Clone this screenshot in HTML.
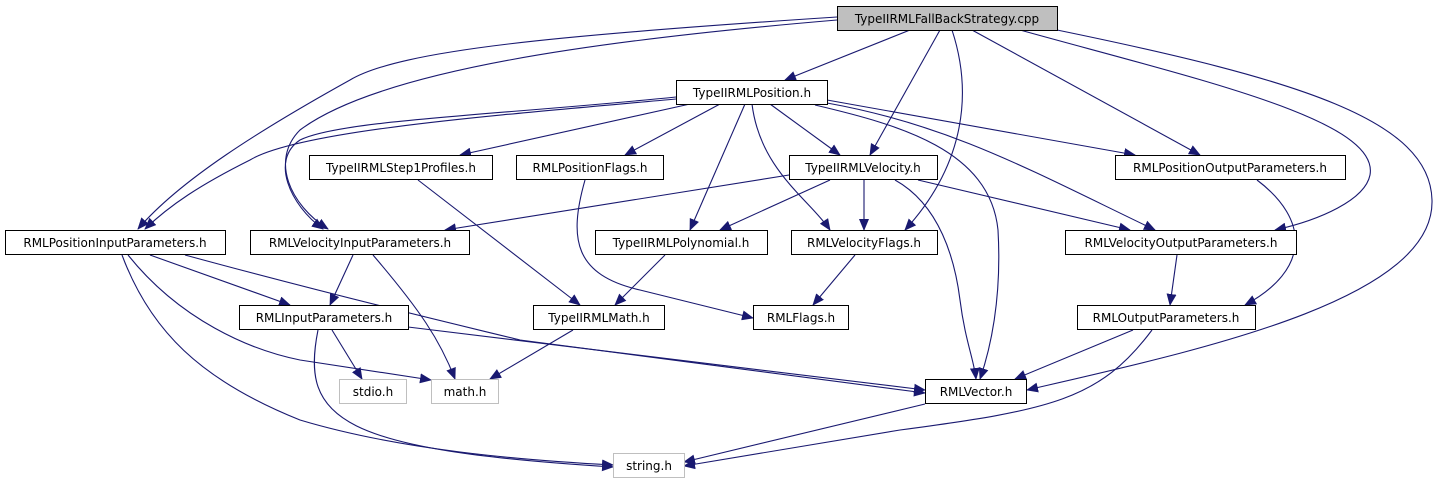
<!DOCTYPE html>
<html><head><meta charset="utf-8"><style>
html,body{margin:0;padding:0;background:#fff;}
svg{display:block}
text{font-family:"DejaVu Sans","Liberation Sans",sans-serif;font-size:12px;fill:#000}
.n{fill:#fff;stroke:#000;stroke-width:1}
.g{fill:#fff;stroke:#bfbfbf;stroke-width:1}
path.e{fill:none;stroke:#191970;stroke-width:1.1;marker-end:url(#a)}
</style></head><body>
<svg width="1439" height="485" viewBox="0 0 1439 485" xmlns="http://www.w3.org/2000/svg">
<defs><marker id="a" markerWidth="12" markerHeight="10" refX="11" refY="5" orient="auto" markerUnits="userSpaceOnUse"><path d="M0,0 L12,5 L0,10 z" fill="#191970"/></marker></defs>
<g>
<path class="e" d="M910,30 L785,80"/>
<path class="e" d="M837,17 C560,35 400,50 350,80 C260,130 180,180 138,229"/>
<path class="e" d="M837,20 C600,40 380,70 300,130 C270,160 290,205 328,229"/>
<path class="e" d="M676,99 C500,115 300,130 250,160 C200,185 170,205 145,229"/>
<path class="e" d="M676,97 C500,115 340,120 300,140 C270,160 290,205 323,229"/>
<path class="e" d="M690,104 L460,155"/>
<path class="e" d="M720,104 L625,155"/>
<path class="e" d="M745,104 L690,230"/>
<path class="e" d="M752,104 C760,170 810,200 830,230"/>
<path class="e" d="M770,104 L840,155"/>
<path class="e" d="M815,105 C900,125 990,150 998,230 C1002,300 990,350 980,379"/>
<path class="e" d="M895,180 C940,205 955,260 960,300 C965,340 974,360 976,379"/>
<path class="e" d="M827,100 L1135,155"/>
<path class="e" d="M827,103 C950,125 1030,170 1155,230"/>
<path class="e" d="M940,30 L870,155"/>
<path class="e" d="M952,30 C975,100 960,170 905,230"/>
<path class="e" d="M972,30 L1200,155"/>
<path class="e" d="M1020,30 C1200,80 1380,120 1370,175 C1365,200 1320,220 1275,230"/>
<path class="e" d="M1057,30 C1300,80 1430,120 1432,200 C1435,300 1200,350 1027,390"/>
<path class="e" d="M789,175 L445,230"/>
<path class="e" d="M830,180 L720,230"/>
<path class="e" d="M864,180 L864,230"/>
<path class="e" d="M918,180 L1130,230"/>
<path class="e" d="M418,180 L580,305"/>
<path class="e" d="M585,180 C568,240 575,275 640,290 L753,318"/>
<path class="e" d="M665,255 L615,305"/>
<path class="e" d="M855,255 L813,305"/>
<path class="e" d="M1177,255 L1170,305"/>
<path class="e" d="M1257,180 C1310,220 1310,270 1245,305"/>
<path class="e" d="M150,255 L290,305"/>
<path class="e" d="M128,255 C180,320 250,350 300,360 L431,380"/>
<path class="e" d="M122,255 C150,330 200,380 300,420 C400,450 520,460 613,465"/>
<path class="e" d="M185,255 C350,300 480,330 520,340 L925,393"/>
<path class="e" d="M353,255 L330,305"/>
<path class="e" d="M373,255 C420,310 440,340 455,379"/>
<path class="e" d="M332,330 L362,379"/>
<path class="e" d="M318,330 C300,420 340,450 613,467"/>
<path class="e" d="M408,327 L925,390"/>
<path class="e" d="M573,330 L490,379"/>
<path class="e" d="M1133,330 L1015,379"/>
<path class="e" d="M1152,330 C1100,400 1050,410 900,430 L684,466"/>
<path class="e" d="M925,404 L684,462"/>
</g>
<g text-anchor="middle">
<rect x="837.5" y="6.5" width="220" height="24" fill="#bfbfbf" stroke="#000"/><text x="947" y="23">TypeIIRMLFallBackStrategy.cpp</text>
<rect class="n" x="676.5" y="80.5" width="151" height="24"/><text x="752" y="97">TypeIIRMLPosition.h</text>
<rect class="n" x="309.5" y="155.5" width="183" height="24"/><text x="401" y="172">TypeIIRMLStep1Profiles.h</text>
<rect class="n" x="516.5" y="155.5" width="147" height="24"/><text x="590" y="172">RMLPositionFlags.h</text>
<rect class="n" x="789.5" y="155.5" width="148" height="24"/><text x="863" y="172">TypeIIRMLVelocity.h</text>
<rect class="n" x="1115.5" y="155.5" width="230" height="24"/><text x="1230" y="172">RMLPositionOutputParameters.h</text>
<rect class="n" x="5.5" y="230.5" width="220" height="24"/><text x="115" y="247">RMLPositionInputParameters.h</text>
<rect class="n" x="250.5" y="230.5" width="219" height="24"/><text x="360" y="247">RMLVelocityInputParameters.h</text>
<rect class="n" x="595.5" y="230.5" width="172" height="24"/><text x="681" y="247">TypeIIRMLPolynomial.h</text>
<rect class="n" x="791.5" y="230.5" width="146" height="24"/><text x="864" y="247">RMLVelocityFlags.h</text>
<rect class="n" x="1065.5" y="230.5" width="231" height="24"/><text x="1181" y="247">RMLVelocityOutputParameters.h</text>
<rect class="n" x="239.5" y="305.5" width="169" height="24"/><text x="324" y="322">RMLInputParameters.h</text>
<rect class="n" x="533.5" y="305.5" width="131" height="24"/><text x="599" y="322">TypeIIRMLMath.h</text>
<rect class="n" x="753.5" y="305.5" width="95" height="24"/><text x="801" y="322">RMLFlags.h</text>
<rect class="n" x="1077.5" y="305.5" width="178" height="24"/><text x="1166" y="322">RMLOutputParameters.h</text>
<rect class="g" x="339.5" y="379.5" width="67" height="24"/><text x="373" y="396">stdio.h</text>
<rect class="g" x="431.5" y="379.5" width="67" height="24"/><text x="465" y="396">math.h</text>
<rect class="n" x="925.5" y="379.5" width="101" height="24"/><text x="976" y="396">RMLVector.h</text>
<rect class="g" x="613.5" y="453.5" width="71" height="24"/><text x="649" y="470">string.h</text>
</g>
</svg>
</body></html>
